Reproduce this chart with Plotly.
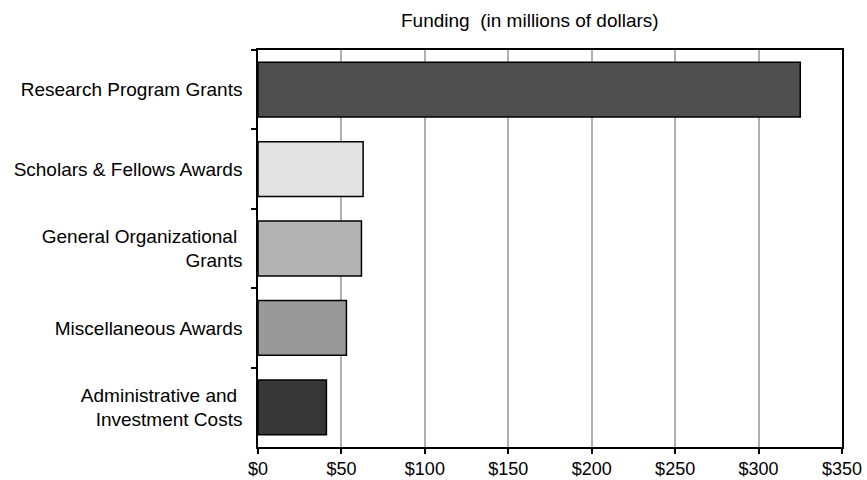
import plotly.graph_objects as go

categories = [
    "Research Program Grants",
    "Scholars & Fellows Awards",
    "General Organizational <br>Grants",
    "Miscellaneous Awards",
    "Administrative and <br>Investment Costs",
]
values = [325, 63, 62, 53, 41]
colors = ["#4f4f4f", "#e3e3e3", "#b3b3b3", "#999999", "#363636"]
tick_vals = [0, 50, 100, 150, 200, 250, 300, 350]
tick_text = ["$0", "$50", "$100", "$150", "$200", "$250", "$300", "$350"]
title_text = "Funding  (in millions of dollars)"

FONT = "Liberation Sans, Arial, Helvetica, sans-serif"

fig = go.Figure(
    go.Bar(
        x=values,
        y=categories,
        orientation="h",
        marker=dict(color=colors, line=dict(color="black", width=1.5)),
        hoverinfo="x+y",
    )
)

fig.update_layout(
    width=867,
    height=480,
    margin=dict(l=258, r=25, t=50, b=33),
    paper_bgcolor="white",
    plot_bgcolor="white",
    bargap=0.31,
    showlegend=False,
    font=dict(family=FONT, size=19, color="black"),
    annotations=[
        dict(
            text=title_text,
            xref="paper",
            yref="paper",
            x=0.466,
            y=1.0,
            yshift=30,
            xanchor="center",
            yanchor="middle",
            showarrow=False,
            font=dict(family=FONT, size=19, color="black"),
        )
    ],
)

fig.update_xaxes(
    range=[0, 350],
    tickvals=tick_vals,
    ticktext=tick_text,
    showgrid=True,
    gridcolor="#b0b0b0",
    gridwidth=1.5,
    zeroline=False,
    showline=True,
    linecolor="black",
    linewidth=1.5,
    mirror=True,
    ticks="outside",
    ticklen=5,
    tickwidth=1.5,
    tickcolor="black",
    tickfont=dict(family=FONT, size=18, color="black"),
    automargin=False,
    fixedrange=True,
)

fig.update_yaxes(
    categoryorder="array",
    categoryarray=categories,
    autorange="reversed",
    showgrid=False,
    zeroline=False,
    showline=True,
    linecolor="black",
    linewidth=1.5,
    mirror=True,
    ticks="outside",
    tickson="boundaries",
    ticklen=5,
    tickwidth=1.5,
    tickcolor="black",
    ticklabelstandoff=10,
    tickfont=dict(family=FONT, size=19, color="black"),
    automargin=False,
    fixedrange=True,
)

fig.write_html(
    "out.html",
    config={"displayModeBar": False},
    post_script="document.body.style.margin='0';document.body.style.padding='0';document.body.style.overflow='hidden';",
)
